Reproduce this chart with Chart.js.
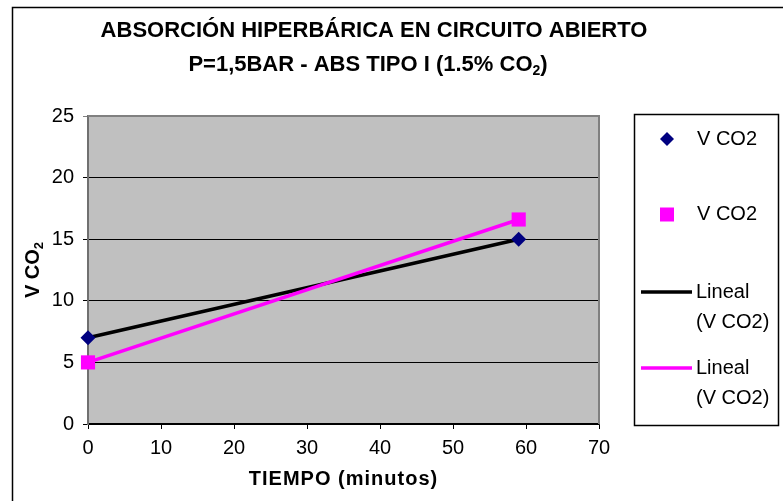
<!DOCTYPE html>
<html>
<head>
<meta charset="utf-8">
<script src="https://cdn.jsdelivr.net/npm/chart.js@4/dist/chart.umd.min.js"></script>
<style>
  html, body { margin: 0; padding: 0; background: #ffffff; }
  #wrap { width: 783px; height: 501px; }
</style>
</head>
<body>
<div id="wrap"><canvas id="c" width="783" height="501"></canvas></div>
<script>
// Absorption measurements: time (minutes) and CO2 volume
const tiempo = [0, 59];
const vco2Serie1 = [7, 15];
const vco2Serie2 = [5, 16.6];

const xTicks = [0, 10, 20, 30, 40, 50, 60, 70];
const yTicks = [0, 5, 10, 15, 20, 25];

const tituloLinea1 = 'ABSORCIÓN HIPERBÁRICA EN CIRCUITO ABIERTO';
const tituloLinea2 = 'P=1,5BAR - ABS TIPO I (1.5% CO';
const ejeX = 'TIEMPO (minutos)';
const ejeY = 'V CO';
const serieNombre = 'V CO2';
const tendenciaNombre = ['Lineal', '(V CO2)'];

const FONT = '"Liberation Sans", Arial, sans-serif';
const NAVY = '#000080';
const MAGENTA = '#ff00ff';

function puntos(xs, ys) {
  return xs.map((x, i) => ({ x: x, y: ys[i] }));
}

// Least-squares linear trend of a series, evaluated at the first and last x
function tendencia(xs, ys) {
  const n = xs.length;
  const mx = xs.reduce((a, b) => a + b, 0) / n;
  const my = ys.reduce((a, b) => a + b, 0) / n;
  let sxy = 0, sxx = 0;
  for (let i = 0; i < n; i++) {
    sxy += (xs[i] - mx) * (ys[i] - my);
    sxx += (xs[i] - mx) * (xs[i] - mx);
  }
  const m = sxy / sxx;
  const b = my - m * mx;
  const x0 = Math.min(...xs), x1 = Math.max(...xs);
  return [{ x: x0, y: m * x0 + b }, { x: x1, y: m * x1 + b }];
}

// Gray plot background with a frame, plus the outer chart border
const fondo = {
  id: 'fondo',
  beforeDraw(chart) {
    const { ctx, chartArea: a } = chart;
    ctx.save();
    ctx.fillStyle = '#ffffff';
    ctx.fillRect(0, 0, chart.width, chart.height);
    ctx.fillStyle = '#c0c0c0';
    ctx.fillRect(a.left, a.top, a.right - a.left, a.bottom - a.top);
    ctx.strokeStyle = '#000000';
    ctx.lineWidth = 1.5;
    ctx.beginPath();
    ctx.moveTo(12.5, chart.height + 5);
    ctx.lineTo(12.5, 7.5);
    ctx.lineTo(chart.width + 5, 7.5);
    ctx.stroke();
    ctx.restore();
  },
  beforeDatasetsDraw(chart) {
    const { ctx, chartArea: a } = chart;
    ctx.save();
    ctx.strokeStyle = '#808080';
    ctx.lineWidth = 2;
    ctx.beginPath();
    ctx.moveTo(a.left, a.top);
    ctx.lineTo(a.right, a.top);
    ctx.lineTo(a.right, a.bottom);
    ctx.stroke();
    ctx.restore();
  }
};

// Titles (with subscripts) and the boxed legend
const textos = {
  id: 'textos',
  afterDraw(chart) {
    const { ctx, chartArea: a } = chart;
    ctx.save();
    ctx.fillStyle = '#000000';
    ctx.textBaseline = 'middle';

    // Main title, two lines
    ctx.font = 'bold 22px ' + FONT;
    ctx.textAlign = 'center';
    ctx.fillText(tituloLinea1, 374, 31);
    const w2a = ctx.measureText(tituloLinea2).width;
    ctx.font = 'bold 14px ' + FONT;
    const wSub = ctx.measureText('2').width;
    ctx.font = 'bold 22px ' + FONT;
    const wPar = ctx.measureText(')').width;
    const total = w2a + wSub + wPar;
    let x = 368 - total / 2;
    ctx.textAlign = 'left';
    ctx.fillText(tituloLinea2, x, 65);
    x += w2a;
    ctx.font = 'bold 14px ' + FONT;
    ctx.fillText('2', x, 71);
    x += wSub;
    ctx.font = 'bold 22px ' + FONT;
    ctx.fillText(')', x, 65);

    // X axis title
    ctx.font = 'bold 20px ' + FONT;
    ctx.textAlign = 'center';
    ctx.letterSpacing = '1px';
    ctx.fillText(ejeX, (a.left + a.right) / 2, 479);
    ctx.letterSpacing = '0px';

    // Y axis title, rotated, with subscript
    ctx.save();
    ctx.translate(33, (a.top + a.bottom) / 2);
    ctx.rotate(-Math.PI / 2);
    ctx.font = 'bold 20px ' + FONT;
    const wy = ctx.measureText(ejeY).width;
    ctx.font = 'bold 13px ' + FONT;
    const wys = ctx.measureText('2').width;
    let yx = -(wy + wys) / 2;
    ctx.textAlign = 'left';
    ctx.font = 'bold 20px ' + FONT;
    ctx.fillText(ejeY, yx, 0);
    ctx.font = 'bold 13px ' + FONT;
    ctx.fillText('2', yx + wy, 6);
    ctx.restore();

    // Legend box
    ctx.strokeStyle = '#000000';
    ctx.lineWidth = 1.5;
    ctx.strokeRect(634.5, 114.5, 144, 311);

    const ds = chart.data.datasets;
    ctx.font = '20px ' + FONT;
    ctx.textAlign = 'left';
    const tx = 697;

    // Marker entries
    const marcas = [
      { d: ds[2], y: 139 },
      { d: ds[3], y: 214 }
    ];
    marcas.forEach(m => {
      ctx.fillStyle = m.d.backgroundColor;
      ctx.beginPath();
      if (m.d.pointStyle === 'rect') {
        ctx.rect(660, m.y - 6.5, 14, 14);
      } else {
        ctx.moveTo(667, m.y - 7); ctx.lineTo(674, m.y);
        ctx.lineTo(667, m.y + 7); ctx.lineTo(660, m.y);
        ctx.closePath();
      }
      ctx.fill();
      ctx.fillStyle = '#000000';
      ctx.fillText(serieNombre, tx, m.y);
    });

    // Trend line entries
    const lineas = [
      { d: ds[0], y: 292 },
      { d: ds[1], y: 368 }
    ];
    lineas.forEach(l => {
      ctx.strokeStyle = l.d.borderColor;
      ctx.lineWidth = 3.5;
      ctx.beginPath();
      ctx.moveTo(641, l.y);
      ctx.lineTo(692, l.y);
      ctx.stroke();
      ctx.fillStyle = '#000000';
      ctx.fillText(tendenciaNombre[0], tx - 1, l.y);
      ctx.fillText(tendenciaNombre[1], tx - 1, l.y + 30);
    });

    ctx.restore();
  }
};

const chart = new Chart(document.getElementById('c'), {
  type: 'scatter',
  data: {
    datasets: [
      {
        label: 'Lineal (V CO2)',
        data: tendencia(tiempo, vco2Serie1),
        showLine: true,
        borderColor: '#000000',
        borderWidth: 3.5,
        pointRadius: 0,
        pointHoverRadius: 0,
        fill: false,
        clip: false,
        order: 4
      },
      {
        label: 'Lineal (V CO2)',
        data: tendencia(tiempo, vco2Serie2),
        showLine: true,
        borderColor: MAGENTA,
        borderWidth: 3.5,
        pointRadius: 0,
        pointHoverRadius: 0,
        fill: false,
        clip: false,
        order: 3
      },
      {
        label: serieNombre,
        data: puntos(tiempo, vco2Serie1),
        pointStyle: 'rectRot',
        pointRadius: 7.5,
        backgroundColor: NAVY,
        borderColor: NAVY,
        borderWidth: 0,
        clip: false,
        order: 2
      },
      {
        label: serieNombre,
        data: puntos(tiempo, vco2Serie2),
        pointStyle: 'rect',
        pointRadius: 10,
        backgroundColor: MAGENTA,
        borderColor: MAGENTA,
        borderWidth: 0,
        clip: false,
        order: 1
      }
    ]
  },
  options: {
    responsive: false,
    animation: false,
    events: [],
    layout: { padding: { left: 0, top: 116, right: 184, bottom: 0 } },
    plugins: {
      legend: { display: false },
      title: { display: false },
      tooltip: { enabled: false }
    },
    scales: {
      x: {
        type: 'linear',
        min: 0,
        max: 70,
        afterFit(s) { s.height = 77; },
        afterBuildTicks(s) { s.ticks = xTicks.map(v => ({ value: v })); },
        ticks: {
          color: '#000000',
          font: { family: FONT, size: 20 },
          padding: 7,
          maxRotation: 0
        },
        grid: {
          drawOnChartArea: false,
          drawTicks: true,
          tickLength: 5,
          color: '#000000',
          lineWidth: 1
        },
        border: { display: true, color: '#000000', width: 1.5 }
      },
      y: {
        type: 'linear',
        min: 0,
        max: 25,
        afterFit(s) { s.width = 88; },
        afterBuildTicks(s) { s.ticks = yTicks.map(v => ({ value: v })); },
        ticks: {
          color: '#000000',
          font: { family: FONT, size: 20 },
          padding: 9
        },
        grid: {
          drawOnChartArea: true,
          drawTicks: true,
          tickLength: 5,
          color: ctx => (ctx.tick && ctx.tick.value === 25 ? '#808080' : '#000000'),
          lineWidth: 1
        },
        border: { display: true, color: '#707070', width: 2 }
      }
    }
  },
  plugins: [fondo, textos]
});
</script>
</body>
</html>
